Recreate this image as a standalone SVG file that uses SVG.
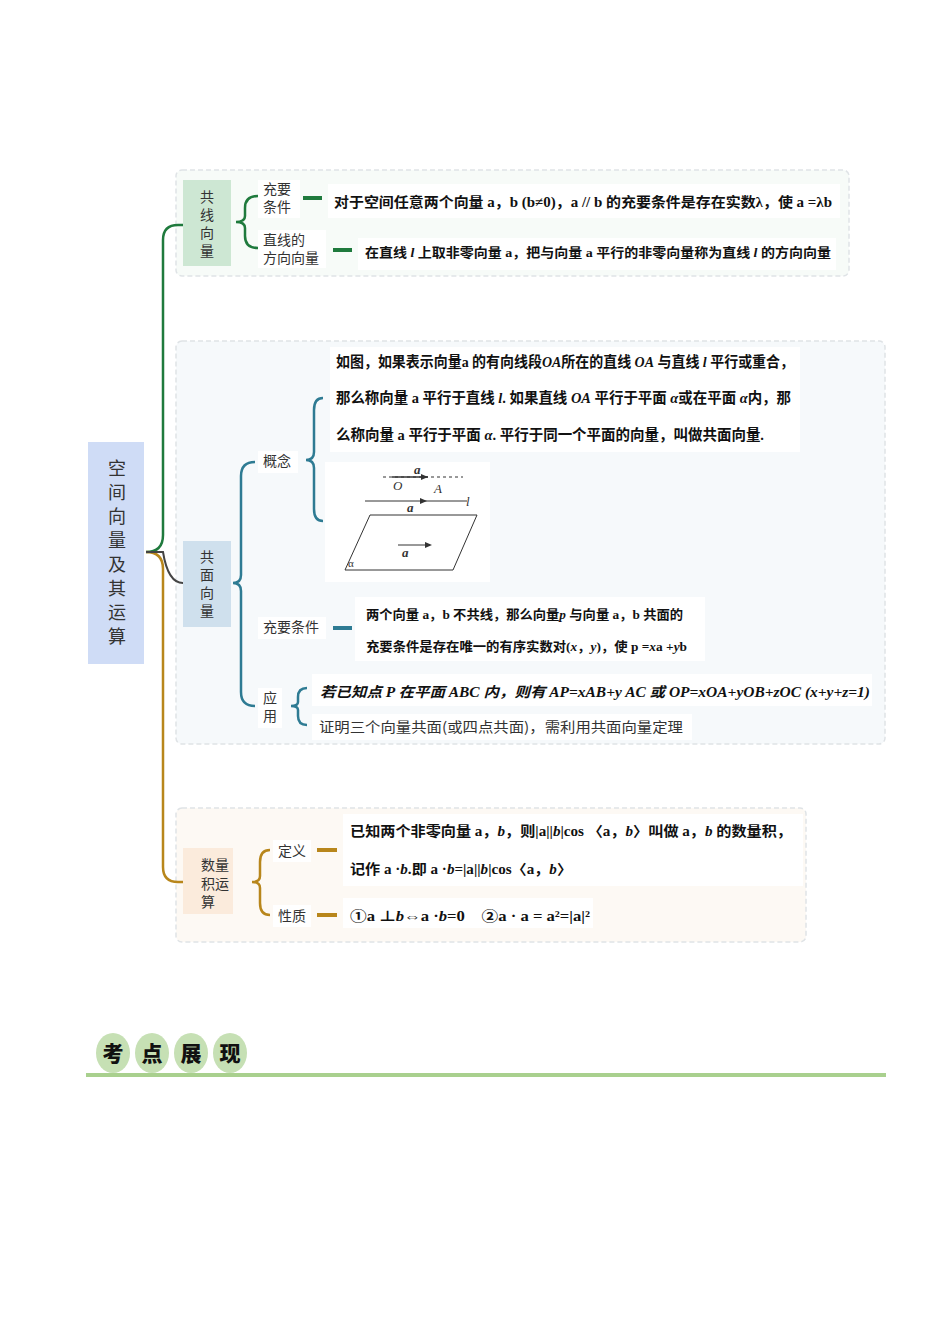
<svg xmlns="http://www.w3.org/2000/svg" width="950" height="1344" viewBox="0 0 950 1344">
<style>
.lbl{font-family:"Noto Sans CJK SC","Noto Sans",sans-serif;font-size:14px;fill:#333}
.bt{font-family:"Liberation Serif","Noto Sans CJK SC",serif;font-weight:bold;fill:#111}
.panel{stroke:#dfe3e6;stroke-width:1.5;stroke-dasharray:5 3}
.g{stroke:#1f7a3d;fill:none;stroke-width:2.5}
.t{stroke:#2e7b93;fill:none;stroke-width:2.5}
.o{stroke:#b8861b;fill:none;stroke-width:2.5}
</style>
<rect width="950" height="1344" fill="#fff"/>
<rect class="panel" x="176" y="170" width="673" height="106" rx="6" fill="#f7fbf8"/>
<rect class="panel" x="176" y="341" width="709" height="403" rx="6" fill="#f6f9fb"/>
<rect class="panel" x="176" y="808" width="630" height="134" rx="6" fill="#fdf9f4"/>
<g id="connectors">
<path class="g" d="M146,552 Q163,552 163,535 L163,240 Q163,225 178,225 L183,225"/>
<path class="o" d="M146,552 Q163,552 163,569 L163,867 Q163,882 178,882 L183,882"/>
<path d="M146,552 L163,552 Q168,583 183,583" stroke="#444" stroke-width="2" fill="none"/>
<path class="g" d="M258,196 Q245,196 245,208 L245,216 Q245,222 236,222 Q245,222 245,228 L245,236 Q245,248 258,248"/>
<path d="M303,198 H322 M333,250 H352" stroke="#1f7a3d" stroke-width="4"/>
<path class="t" d="M255,462 Q241,462 241,476 L241,575 Q241,583 233,583 Q241,583 241,591 L241,692 Q241,706 255,706"/>
<path class="t" d="M323,398 Q314,398 314,410 L314,452 Q314,460 306,460 Q314,460 314,468 L314,509 Q314,521 323,521"/>
<path class="t" d="M307,688 Q298,688 298,697 L298,702 Q298,706 291,706 Q298,706 298,710 L298,716 Q298,725 307,725"/>
<path d="M333,628 H352" stroke="#2e7b93" stroke-width="4"/>
<path class="o" d="M270,850 Q260,850 260,862 L260,876 Q260,882 252,882 Q260,882 260,888 L260,903 Q260,915 270,915"/>
<path d="M317,850 H337 M317,915 H337" stroke="#b8861b" stroke-width="4"/>
</g>
<g id="root"><rect x="88" y="442" width="56" height="222" fill="#cfdcf6"/>
<g class="lbl" style="font-size:18px" text-anchor="middle"><text x="117" y="475">空</text><text x="117" y="499">间</text><text x="117" y="523">向</text><text x="117" y="547">量</text><text x="117" y="571">及</text><text x="117" y="595">其</text><text x="117" y="619">运</text><text x="117" y="643">算</text></g></g>
<g id="n-gongxian"><rect x="183" y="180" width="48" height="86" fill="#cde7d3"/>
<g class="lbl" text-anchor="middle"><text x="207" y="202">共</text><text x="207" y="220">线</text><text x="207" y="238">向</text><text x="207" y="256">量</text></g></g>
<g id="n-cy1" class="lbl"><rect x="258" y="180" width="42" height="38" fill="#fff"/><text x="263" y="194">充要</text><text x="263" y="212">条件</text></g>
<g id="n-fx" class="lbl"><rect x="258" y="230" width="68" height="38" fill="#fff"/><text x="263" y="245">直线的</text><text x="263" y="263">方向向量</text></g>
<g id="t1"><rect x="328" y="184" width="512" height="34" fill="#fff"/><text class="bt" x="334" y="207" font-size="14" textLength="498" lengthAdjust="spacingAndGlyphs">对于空间任意两个向量 a，b (b≠0)，a // b 的充要条件是存在实数λ，使 a =λb</text></g>
<g id="t2"><rect x="358" y="238" width="478" height="32" fill="#fff"/><text class="bt" x="365" y="257" font-size="13" textLength="466" lengthAdjust="spacingAndGlyphs">在直线 <tspan font-style="italic">l</tspan> 上取非零向量 a，把与向量 a 平行的非零向量称为直线 <tspan font-style="italic">l</tspan> 的方向向量</text></g>
<g id="n-gongmian"><rect x="183" y="541" width="48" height="86" fill="#cfe0ed"/>
<g class="lbl" text-anchor="middle"><text x="207" y="562">共</text><text x="207" y="580">面</text><text x="207" y="598">向</text><text x="207" y="616">量</text></g></g>
<g id="n-gn" class="lbl"><rect x="258" y="451" width="40" height="22" fill="#fff"/><text x="263" y="466">概念</text></g>
<g id="t3"><rect x="330" y="347" width="470" height="105" fill="#fff"/>
<g class="bt" font-size="15"><text x="336" y="367" textLength="458" lengthAdjust="spacingAndGlyphs">如图，如果表示向量a 的有向线段<tspan font-style="italic">OA</tspan>所在的直线 <tspan font-style="italic">OA</tspan> 与直线 <tspan font-style="italic">l</tspan> 平行或重合，</text>
<text x="336" y="403" textLength="455" lengthAdjust="spacingAndGlyphs">那么称向量 a 平行于直线 <tspan font-style="italic">l</tspan>. 如果直线 <tspan font-style="italic">OA</tspan> 平行于平面 <tspan font-style="italic">α</tspan>或在平面 <tspan font-style="italic">α</tspan>内，那</text>
<text x="336" y="440" textLength="428" lengthAdjust="spacingAndGlyphs">么称向量 a 平行于平面 <tspan font-style="italic">α</tspan>. 平行于同一个平面的向量，叫做共面向量.</text></g></g>
<g id="fig"><rect x="325" y="462" width="165" height="120" fill="#fff"/>
<path d="M383,477 H463" stroke="#333" stroke-dasharray="3 3"/><path d="M392,477 H428" stroke="#333" stroke-width="1.3"/><path d="M428,477 l-7,-3 v6z" fill="#333"/>
<path d="M365,501 H467" stroke="#333"/><path d="M427,501 l-7,-3 v6z" fill="#333"/>
<path d="M370,515 H477 L453,570 H345 Z" fill="none" stroke="#333"/>
<path d="M398,545 H430" stroke="#333"/><path d="M432,545 l-7,-3 v6z" fill="#333"/>
<g font-family="Liberation Serif,serif" font-style="italic" font-size="13" fill="#333"><text x="414" y="474" font-weight="bold">a</text><text x="393" y="490">O</text><text x="434" y="493">A</text><text x="466" y="506">l</text><text x="407" y="512" font-weight="bold">a</text><text x="402" y="557" font-weight="bold">a</text><text x="348" y="567" font-style="normal" font-size="11">α</text></g></g>
<g id="n-cy2" class="lbl"><rect x="258" y="617" width="68" height="22" fill="#fff"/><text x="263" y="632">充要条件</text></g>
<g id="t4"><rect x="355" y="597" width="350" height="64" fill="#fff"/>
<g class="bt" font-size="13"><text x="366" y="619" textLength="317" lengthAdjust="spacingAndGlyphs">两个向量 a，b 不共线，那么向量<tspan font-style="italic">p</tspan> 与向量 a，b 共面的</text>
<text x="366" y="651" textLength="321" lengthAdjust="spacingAndGlyphs">充要条件是存在唯一的有序实数对(<tspan font-style="italic">x</tspan>，<tspan font-style="italic">y</tspan>)，使 p =<tspan font-style="italic">x</tspan>a +<tspan font-style="italic">y</tspan>b</text></g></g>
<g id="n-yy" class="lbl"><rect x="258" y="688" width="24" height="40" fill="#fff"/><text x="263" y="703">应</text><text x="263" y="721">用</text></g>
<g id="t5"><rect x="312" y="674" width="560" height="32" fill="#fff"/><text class="bt" x="320" y="697" font-size="14" font-style="italic" textLength="550" lengthAdjust="spacingAndGlyphs">若已知点 P 在平面 ABC 内，则有 AP=xAB+y AC 或 OP=xOA+yOB+zOC (x+y+z=1)</text></g>
<g id="t6"><rect x="312" y="714" width="380" height="26" fill="#fff"/><text class="lbl" x="319" y="732" textLength="364" lengthAdjust="spacingAndGlyphs">证明三个向量共面(或四点共面)，需利用共面向量定理</text></g>
<g id="n-sl"><rect x="183" y="848" width="50" height="66" fill="#fbebdc"/>
<g class="lbl" text-anchor="middle"><text x="215" y="870">数量</text><text x="215" y="889">积运</text><text x="208" y="907">算</text></g></g>
<g id="n-dy" class="lbl"><rect x="273" y="840" width="38" height="22" fill="#fff"/><text x="278" y="856">定义</text></g>
<g id="n-xz" class="lbl"><rect x="273" y="905" width="38" height="22" fill="#fff"/><text x="278" y="921">性质</text></g>
<g id="t7"><rect x="343" y="814" width="460" height="72" fill="#fff"/>
<g class="bt" font-size="14"><text x="350" y="836" textLength="442" lengthAdjust="spacingAndGlyphs">已知两个非零向量 a，<tspan font-style="italic">b</tspan>，则|a||<tspan font-style="italic">b</tspan>|cos 〈a，<tspan font-style="italic">b</tspan>〉叫做 a，<tspan font-style="italic">b</tspan> 的数量积，</text>
<text x="350" y="874" textLength="222" lengthAdjust="spacingAndGlyphs">记作 a ·<tspan font-style="italic">b</tspan>.即 a ·<tspan font-style="italic">b</tspan>=|a||<tspan font-style="italic">b</tspan>|cos〈a，<tspan font-style="italic">b</tspan>〉</text></g></g>
<g id="t8"><rect x="343" y="898" width="250" height="30" fill="#fff"/><text class="bt" x="350" y="921" font-size="14" textLength="240" lengthAdjust="spacingAndGlyphs">①a ⊥<tspan font-style="italic">b</tspan>⇔a ·<tspan font-style="italic">b</tspan>=0　②a · a = a²=|a|²</text></g>
<g id="kdzx">
<rect x="86" y="1073" width="800" height="4" fill="#a9d08e"/>
<g fill="#c6e0b4"><ellipse cx="113" cy="1053" rx="17" ry="20"/><ellipse cx="152" cy="1053" rx="17" ry="20"/><ellipse cx="191" cy="1053" rx="17" ry="20"/><ellipse cx="230" cy="1053" rx="17" ry="20"/></g>
<g font-family="Noto Sans CJK SC,sans-serif" font-weight="900" font-size="21" fill="#111" text-anchor="middle"><text x="113" y="1061">考</text><text x="152" y="1061">点</text><text x="191" y="1061">展</text><text x="230" y="1061">现</text></g></g>
</svg>
